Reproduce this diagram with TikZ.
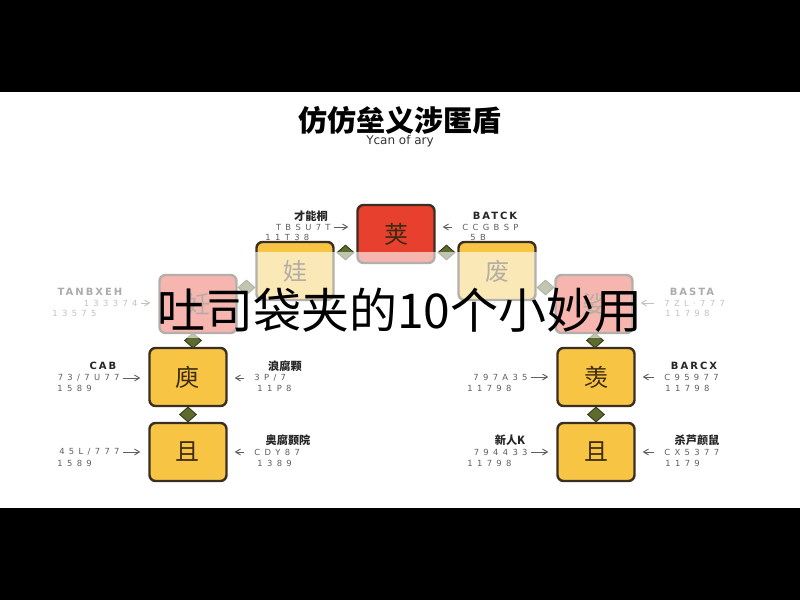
\documentclass[tikz,border=0pt]{standalone}
\usepackage{fontspec}
\setmainfont{DejaVu Sans}
\newfontfamily\cjk{Noto Sans CJK SC}
\newfontfamily\lblfont{DejaVu Sans}[LetterSpace=20]
\usetikzlibrary{arrows.meta, shapes.geometric, positioning}
\tikzset{>={Straight Barb[length=2.5pt,width=3pt]}}
\definecolor{boxred}{HTML}{E8402E}
\definecolor{boxyel}{HTML}{F7C443}
\definecolor{boxline}{HTML}{3B2E22}
\definecolor{dmdgreen}{HTML}{5C6B2E}
\definecolor{glyph}{HTML}{3A2A10}
\definecolor{lblgray}{HTML}{5E5E5E}
\tikzset{
  box/.style={draw=boxline, line width=1.2pt, rounded corners=3pt, minimum width=38.5pt,
    minimum height=29pt, inner sep=0pt, text=glyph, font=\cjk\fontsize{12}{12}\selectfont},
  redbox/.style={box, fill=boxred},
  yelbox/.style={box, fill=boxyel},
  dmd/.style={diamond, fill=dmdgreen, draw=dmdgreen!60!black, line width=0.5pt,
    minimum width=8.5pt, minimum height=7.5pt, inner sep=0pt},
  lhead/.style={inner sep=0pt, text=black!85, font=\lblfont\bfseries\fontsize{5}{5}\selectfont},
  lheadcjk/.style={inner sep=0pt, text=black!85, font=\cjk\bfseries\fontsize{5.6}{6}\selectfont},
  lline/.style={inner sep=0pt, text=lblgray, font=\lblfont\fontsize{4.2}{4}\selectfont},
  lto/.style={->, lblgray, line width=0.45pt, shorten <=1.5pt, shorten >=4pt},
  rto/.style={->, lblgray, line width=0.45pt, shorten <=5pt, shorten >=3.5pt}
}
\begin{document}
\begin{tikzpicture}[x=0.5pt,y=-0.5pt]
\useasboundingbox (0,0) rectangle (800,600);
\fill[white] (0,92) rectangle (800,508);
\fill[black] (0,0) rectangle (800,92);
\fill[black] (0,508) rectangle (800,600);

% title
\node[font=\cjk\bfseries\fontsize{14.5}{15}\selectfont] (title) at (400,120) {仿仿垒义涉匿盾};
\node[font=\fontsize{6}{6}\selectfont, text=black!80] (sub) at (400,141) {Ycan of ary};

% boxes
\node[redbox] (top) at (396,234) {荚};
\node[yelbox] (ly) at (295,271) {娃};
\node[yelbox] (ry) at (497,271) {废};
\node[redbox] (lr) at (198,304) {妊};
\node[redbox] (rr) at (594,304) {娑};
\node[yelbox] (lm) at (188,377) {庾};
\node[yelbox] (lb) at (188,452) {且};
\node[yelbox] (rm) at (596,377) {羡};
\node[yelbox] (rb) at (596,452) {且};

% links
\path (top.south west) to node[dmd] (d1) {} (ly.north east);
\path (top.south east) to node[dmd] (d2) {} (ry.north west);
\path (ly.south west) to node[dmd] (d3) {} (lr.north east);
\path (ry.south east) to node[dmd] (d4) {} (rr.north west);
\path (lr.south) to node[dmd] (d5) {} (lm.north);
\path (rr.south) to node[dmd] (d6) {} (rm.north);
\path (lm.south) to node[dmd] (d7) {} (lb.north);
\path (rm.south) to node[dmd] (d8) {} (rb.north);

% labels round the top box
\node[lheadcjk] (tlh) at (311,216) {才能桐};
\node[lline, anchor=east] (tl2) at (331,227) {T B S U 7 T};
\node[lline, anchor=west] (tl3) at (265,237) {1 1 T 3 8};
\draw[lto] (tl2.east) to (tl2.east -| top.west);
\node[lhead] (trh) at (495,216) {BATCK};
\node[lline, anchor=west] (tr2) at (462,227) {C C G B S P};
\node[lline, anchor=west] (tr3) at (470,237) {5 B};
\draw[rto] (tr2.west) to (tr2.west -| top.east);

% labels round the red boxes
\node[lhead] (lrh) at (90,292) {TANBXEH};
\node[lline, anchor=east] (lr2) at (138,303) {1 3 3 3 7 4};
\node[lline, anchor=west] (lr3) at (52,313) {1 3 5 7 5};
\draw[lto] (lr2.east) to (lr2.east -| lr.west);
\node[lhead] (rrh) at (692,292) {BASTA};
\node[lline, anchor=west] (rr2) at (664,303) {7 Z L · 7 7 7};
\node[lline, anchor=west] (rr3) at (665,313) {1 1 7 9 8};
\draw[rto] (rr2.west) to (rr2.west -| rr.east);

% labels round the left column
\node[lhead] (lmh) at (103,366) {CAB};
\node[lline, anchor=east] (lm2) at (120,378) {7 3 / 7 U 7 7};
\node[lline, anchor=west] (lm3) at (57,388) {1 5 8 9};
\draw[lto] (lm2.east) to (lm2.east -| lm.west);
\node[lheadcjk] (lmrh) at (285,366) {浪腐颗};
\node[lline, anchor=west] (lmr2) at (254,378) {3 P / 7};
\node[lline, anchor=west] (lmr3) at (257,388) {1 1 P 8};
\draw[rto] (lmr2.west) to (lmr2.west -| lm.east);
\node[lline, anchor=east] (lb2) at (120,452) {4 5 L / 7 7 7};
\node[lline, anchor=west] (lb3) at (57,463) {1 5 8 9};
\draw[lto] (lb2.east) to (lb2.east -| lb.west);
\node[lheadcjk] (lbrh) at (288,440) {奥腐颢院};
\node[lline, anchor=west] (lbr2) at (254,452) {C D Y 8 7};
\node[lline, anchor=west] (lbr3) at (257,463) {1 3 8 9};
\draw[rto] (lbr2.west) to (lbr2.west -| lb.east);

% labels round the right column
\node[lline, anchor=east] (rm2) at (528,377) {7 9 7 A 3 5};
\node[lline, anchor=west] (rm3) at (467,388) {1 1 7 9 8};
\draw[lto] (rm2.east) to (rm2.east -| rm.west);
\node[lhead] (rmrh) at (694,366) {BARCX};
\node[lline, anchor=west] (rmr2) at (664,377) {C 9 5 9 7 7};
\node[lline, anchor=west] (rmr3) at (665,388) {1 1 7 9 8};
\draw[rto] (rmr2.west) to (rmr2.west -| rm.east);
\node[lheadcjk] (rbh) at (510,440) {新人K};
\node[lline, anchor=east] (rb2) at (528,452) {7 9 4 4 3 3};
\node[lline, anchor=west] (rb3) at (467,463) {1 1 7 9 8};
\draw[lto] (rb2.east) to (rb2.east -| rb.west);
\node[lheadcjk] (rbrh) at (697,440) {杀芦颜鼠};
\node[lline, anchor=west] (rbr2) at (664,452) {C X 5 3 7 7};
\node[lline, anchor=west] (rbr3) at (665,463) {1 1 7 9};
\draw[rto] (rbr2.west) to (rbr2.west -| rb.east);

% caption band
\fill[white, opacity=0.62] (0,252) rectangle (800,338);
\node[font=\cjk\fontsize{24}{24}\selectfont] (cap) at (400,310) {吐司袋夹的10个小妙用};
\end{tikzpicture}
\end{document}
